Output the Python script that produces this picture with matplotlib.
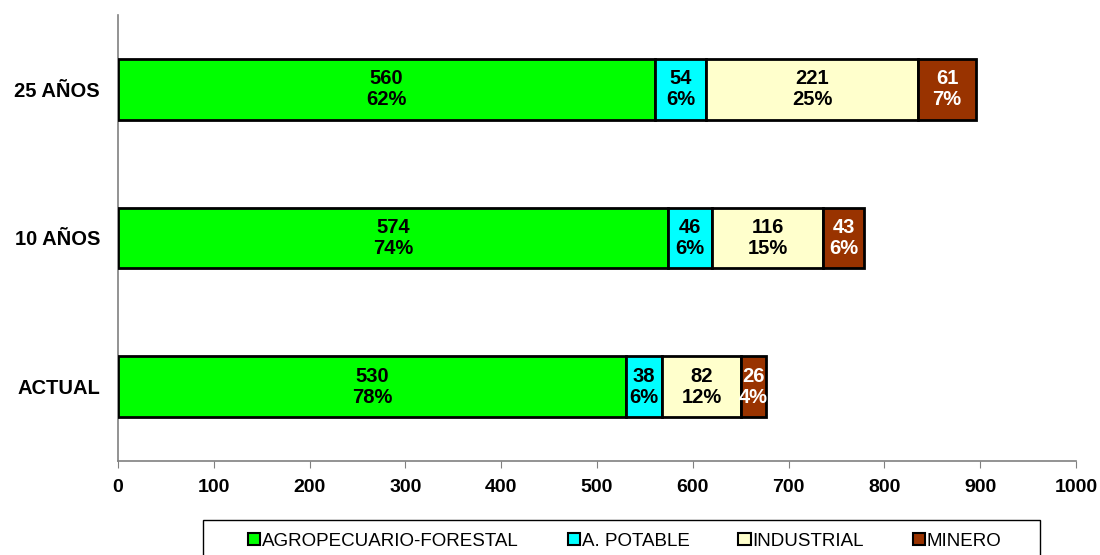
import matplotlib.pyplot as plt
from matplotlib.patches import Patch

categories = ['ACTUAL', '10 AÑOS', '25 AÑOS']
series = ['AGROPECUARIO-FORESTAL', 'A. POTABLE', 'INDUSTRIAL', 'MINERO']
values = {
    'AGROPECUARIO-FORESTAL': [530, 574, 560],
    'A. POTABLE': [38, 46, 54],
    'INDUSTRIAL': [82, 116, 221],
    'MINERO': [26, 43, 61],
}
percents = {
    'AGROPECUARIO-FORESTAL': ['78%', '74%', '62%'],
    'A. POTABLE': ['6%', '6%', '6%'],
    'INDUSTRIAL': ['12%', '15%', '25%'],
    'MINERO': ['4%', '6%', '7%'],
}
colors = ['#00FF00', '#00FFFF', '#FFFFCC', '#993300']
text_colors = ['black', 'black', 'black', 'white']

plt.rcParams['font.family'] = ['Liberation Sans', 'DejaVu Sans']

fig = plt.figure(figsize=(11, 5.55), dpi=100)
ax = fig.add_axes([0.1073, 0.1694, 0.8709, 0.8036])

ypos = list(range(len(categories)))
left = [0] * len(categories)
for name, col, tcol in zip(series, colors, text_colors):
    vals = values[name]
    ax.barh(ypos, vals, left=left, height=0.41, color=col,
            edgecolor='black', linewidth=2, zorder=3)
    for y, v, l, p in zip(ypos, vals, left, percents[name]):
        ax.text(l + v / 2, y, f'{v}\n{p}', ha='center', va='center',
                fontsize=14.5, fontweight='bold', color=tcol,
                linespacing=1.15, zorder=4)
    left = [a + b for a, b in zip(left, vals)]

ax.set_xlim(0, 1000)
ax.set_ylim(-0.5, 2.5)
ax.set_xticks(range(0, 1001, 100))
ax.set_yticks(ypos)
ax.set_yticklabels(categories, fontsize=14.5, fontweight='bold')
for lbl in ax.get_xticklabels():
    lbl.set_fontsize(14)
    lbl.set_fontweight('bold')
ax.tick_params(axis='y', length=0, pad=13)
ax.tick_params(axis='x', direction='out', length=5, color='#808080', pad=8)
for s in ['top', 'right']:
    ax.spines[s].set_visible(False)
for s in ['left', 'bottom']:
    ax.spines[s].set_color('#808080')
    ax.spines[s].set_linewidth(1.2)

# legend box spans ~x 203..1040 in the reference, items centred inside
handles = [Patch(facecolor=c, edgecolor='black', linewidth=1.5) for c in colors]
fig.patches.append(plt.Rectangle((0.1845, -0.05), 0.761, 0.113,
                                 transform=fig.transFigure, facecolor='white',
                                 edgecolor='black', linewidth=1, zorder=1))
leg = fig.legend(handles, series, loc='center', ncol=4,
                 bbox_to_anchor=(0.568, 0.025), frameon=False,
                 prop={'size': 13.5},
                 handlelength=0.65, handleheight=0.65, columnspacing=2.6,
                 handletextpad=0.1, borderaxespad=0)

fig.savefig('out.png', dpi=100)
